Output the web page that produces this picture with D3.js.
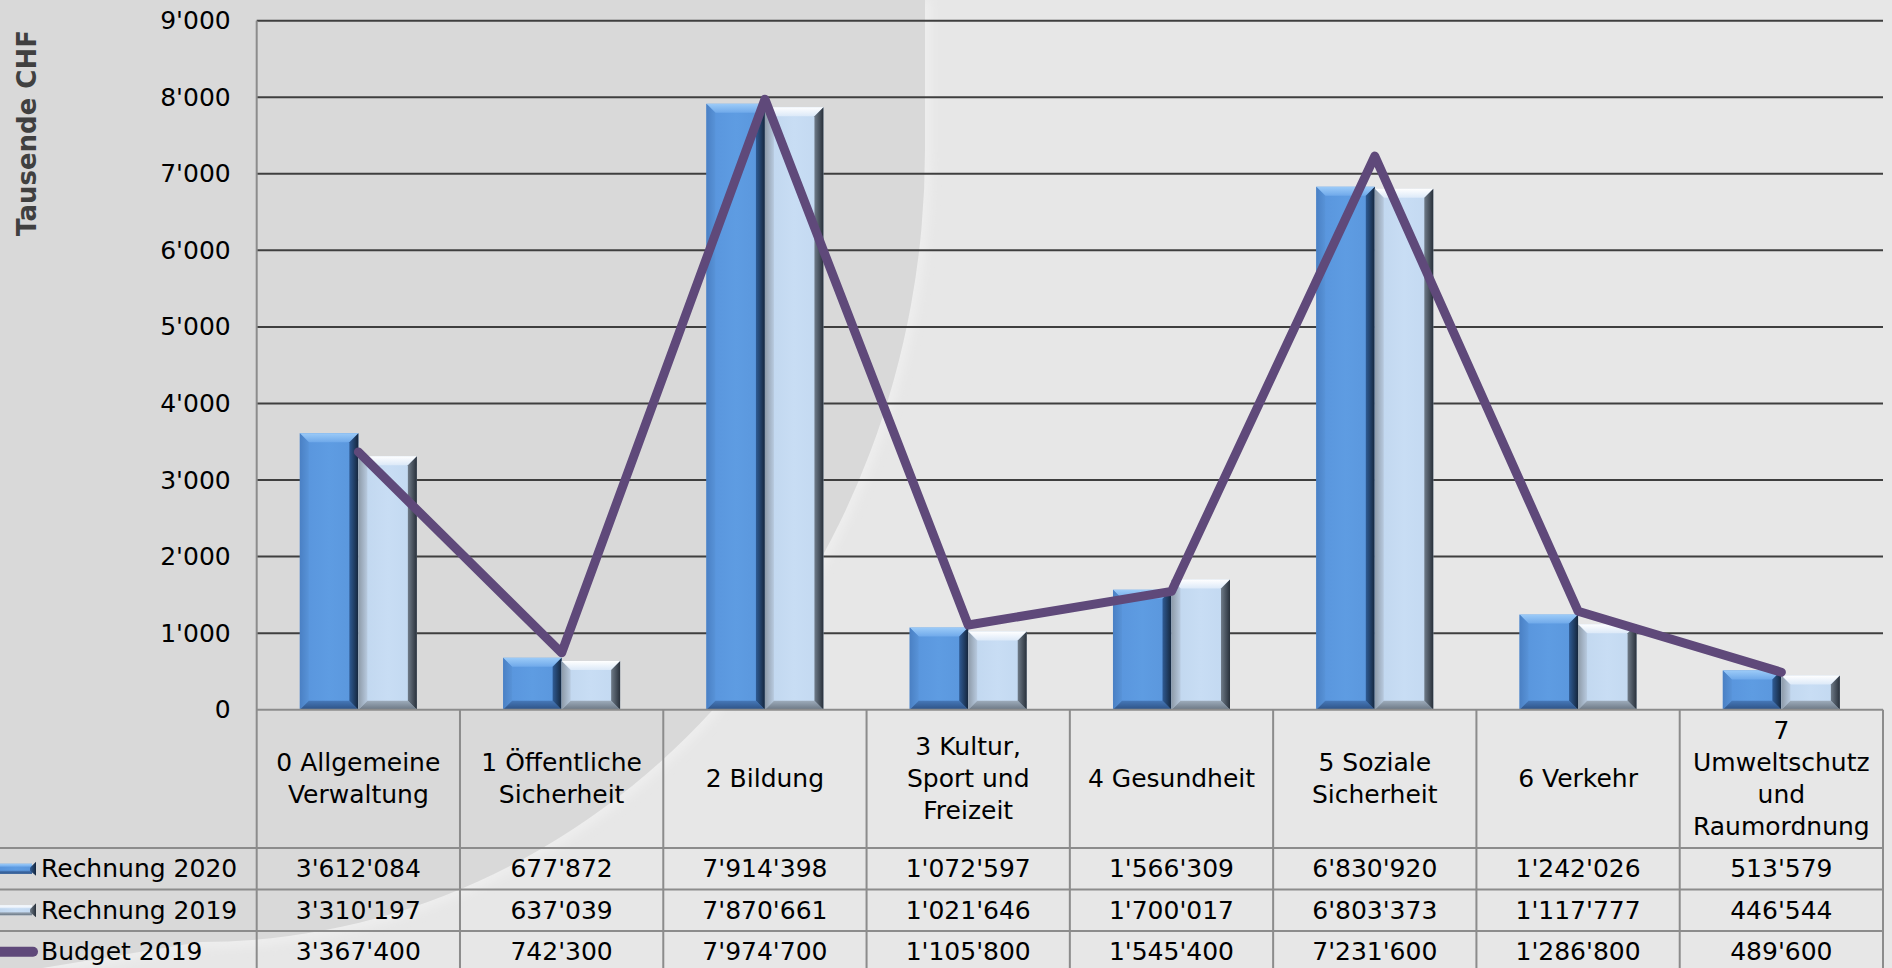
<!DOCTYPE html>
<meta charset="utf-8">
<style>
body { margin: 0; background: #e7e7e7; }
text { font-family: "DejaVu Sans", Verdana, sans-serif; }
</style>
<body>
<script src="https://cdn.jsdelivr.net/npm/d3@7"></script>
<script>

// categories, as they are wrapped in the table header
var categories = ["0 Allgemeine Verwaltung", "1 Öffentliche Sicherheit", "2 Bildung",
  "3 Kultur, Sport und Freizeit", "4 Gesundheit", "5 Soziale Sicherheit", "6 Verkehr",
  "7 Umweltschutz und Raumordnung"];
var headerLines = [["0 Allgemeine", "Verwaltung"], ["1 Öffentliche", "Sicherheit"], ["2 Bildung"],
  ["3 Kultur,", "Sport und", "Freizeit"], ["4 Gesundheit"], ["5 Soziale", "Sicherheit"],
  ["6 Verkehr"], ["7", "Umweltschutz", "und", "Raumordnung"]];

// values in CHF (axis shows thousands)
var rechnung2020 = [3612084, 677872, 7914398, 1072597, 1566309, 6830920, 1242026, 513579];
var rechnung2019 = [3310197, 637039, 7870661, 1021646, 1700017, 6803373, 1117777, 446544];
var budget2019   = [3367400, 742300, 7974700, 1105800, 1545400, 7231600, 1286800, 489600];

var seriesNames = ["Rechnung 2020", "Rechnung 2019", "Budget 2019"];
var yTicks = [0, 1000, 2000, 3000, 4000, 5000, 6000, 7000, 8000, 9000];

var W = 1892, H = 968;
var plotLeft = 256.7, plotRight = 1883, plotTop = 20.7, zero = 709.7;
var headerBottom = 848, rowH = 41.5;

var loc = d3.formatLocale({decimal: ".", thousands: "'", grouping: [3], currency: ["", ""]});
var fmt = loc.format(",");

var svg = d3.select("body").append("svg")
    .attr("width", W)
    .attr("height", H);

var defs = svg.append("defs");
function grad(id, x2, y2, stops) {
  var g = defs.append("linearGradient").attr("id", id)
      .attr("x1", 0).attr("y1", 0).attr("x2", x2).attr("y2", y2);
  stops.forEach(function(s) {
    g.append("stop").attr("offset", s[0]).attr("stop-color", s[1]);
  });
}
// blue bar faces
grad("bTop", 0, 1, [[0, "#9ccbf8"], [1, "#6fa9ea"]]);
grad("bLeft", 1, 0, [[0, "#4a80c4"], [1, "#5893d8"]]);
grad("bRight", 1, 0, [[0, "#2f5b94"], [1, "#15263c"]]);
grad("bBot", 0, 1, [[0, "#4678b8"], [1, "#2d5286"]]);
grad("bMid", 1, 0, [[0, "#5894dc"], [0.5, "#5e9ce2"], [1, "#5a96dc"]]);
// light bar faces
grad("lTop", 0, 1, [[0, "#ffffff"], [1, "#dce9f8"]]);
grad("lLeft", 1, 0, [[0, "#8d9aa8"], [1, "#b8cadf"]]);
grad("lRight", 1, 0, [[0, "#6f7b88"], [1, "#28303a"]]);
grad("lBot", 0, 1, [[0, "#9eacbb"], [1, "#6b7784"]]);
grad("lMid", 1, 0, [[0, "#c0d6ee"], [0.5, "#c8ddf4"], [1, "#c2d8f0"]]);

defs.append("filter").attr("id", "blur")
    .attr("x", "-10%").attr("y", "-10%").attr("width", "120%").attr("height", "120%")
  .append("feGaussianBlur").attr("stdDeviation", 5);

var styles = {
  "Rechnung 2020": {top: "url(#bTop)", left: "url(#bLeft)", right: "url(#bRight)", bot: "url(#bBot)", mid: "url(#bMid)"},
  "Rechnung 2019": {top: "url(#lTop)", left: "url(#lLeft)", right: "url(#lRight)", bot: "url(#lBot)", mid: "url(#lMid)"}
};

// background: darker rounded shape on the left, soft light rim outside it
var bgShape = "M0,0 L925,0 L925,150 A725,792 0 0 1 200,942 L0,975 Z";
svg.append("rect").attr("width", W).attr("height", H).attr("fill", "#e7e7e7");
svg.append("path")
    .attr("d", "M925,0 L925,150 A725,792 0 0 1 200,942 L0,975")
    .attr("fill", "none")
    .attr("stroke", "#eeeeee")
    .attr("stroke-width", 12)
    .attr("filter", "url(#blur)");
svg.append("path")
    .attr("d", bgShape)
    .attr("fill", "#d9d9d9");

// scales
var x = d3.scaleBand().domain(categories).range([plotLeft, plotRight]);
var xs = d3.scaleBand().domain(seriesNames.slice(0, 2)).range([0, x.bandwidth()]).paddingOuter(0.737);
var y = d3.scaleLinear().domain([0, 9000]).range([zero, plotTop]);

// gridlines
svg.append("g").selectAll("line")
  .data(yTicks.slice(1))
  .enter().append("line")
    .attr("x1", plotLeft).attr("x2", plotRight)
    .attr("y1", function(d) { return y(d); })
    .attr("y2", function(d) { return y(d); })
    .attr("stroke", "#3f3f3f")
    .attr("stroke-width", 2);

// y axis labels
var yAxis = svg.append("g")
    .attr("transform", "translate(" + plotLeft + ",0)")
    .call(d3.axisLeft(y).tickValues(yTicks).tickSize(0).tickPadding(26).tickFormat(fmt));
yAxis.select(".domain").remove();
yAxis.selectAll("text")
    .attr("font-size", 25)
    .attr("font-family", "DejaVu Sans")
    .attr("fill", "#000");

svg.append("text")
    .attr("transform", "translate(27,133) rotate(-90)")
    .attr("text-anchor", "middle")
    .attr("dominant-baseline", "central")
    .attr("font-size", 26)
    .attr("font-weight", "bold")
    .attr("fill", "#404040")
    .text("Tausende CHF");

// bevelled bars
function bevelBar(g, bx, by, w, h, st) {
  var b = Math.min(9, h / 2, w / 2);
  var x2 = bx + w, y2 = by + h;
  g.append("rect").attr("x", bx).attr("y", by).attr("width", w).attr("height", h).attr("fill", st.mid);
  g.append("polygon").attr("fill", st.top)
    .attr("points", [[bx, by], [x2, by], [x2 - b, by + b], [bx + b, by + b]].join(" "));
  g.append("polygon").attr("fill", st.left)
    .attr("points", [[bx, by], [bx + b, by + b], [bx + b, y2 - b], [bx, y2]].join(" "));
  g.append("polygon").attr("fill", st.bot)
    .attr("points", [[bx, y2], [bx + b, y2 - b], [x2 - b, y2 - b], [x2, y2]].join(" "));
  g.append("polygon").attr("fill", st.right)
    .attr("points", [[x2, by], [x2, y2], [x2 - b, y2 - b], [x2 - b, by + b]].join(" "));
}

var barData = [];
categories.forEach(function(c, i) {
  barData.push({cat: c, s: "Rechnung 2020", v: rechnung2020[i] / 1000});
  barData.push({cat: c, s: "Rechnung 2019", v: rechnung2019[i] / 1000});
});

var bars = svg.append("g");
barData.forEach(function(d) {
  var bx = x(d.cat) + xs(d.s);
  bevelBar(bars, bx, y(d.v), xs.bandwidth(), zero - y(d.v), styles[d.s]);
});

// budget line
var line = d3.line()
    .x(function(d, i) { return x(categories[i]) + x.bandwidth() / 2; })
    .y(function(d) { return y(d / 1000); });

svg.append("path")
    .datum(budget2019)
    .attr("d", line)
    .attr("fill", "none")
    .attr("stroke", "#5f497a")
    .attr("stroke-width", 9)
    .attr("stroke-linejoin", "round")
    .attr("stroke-linecap", "round");

// data table
var tableStroke = "#8c8c8c";
var tbl = svg.append("g");
var rowTops = [headerBottom, headerBottom + rowH, headerBottom + 2 * rowH, headerBottom + 3 * rowH];

tbl.append("line").attr("x1", plotLeft).attr("x2", plotRight).attr("y1", zero).attr("y2", zero)
    .attr("stroke", tableStroke).attr("stroke-width", 2);
rowTops.forEach(function(r) {
  tbl.append("line").attr("x1", 0).attr("x2", plotRight).attr("y1", r).attr("y2", r)
      .attr("stroke", tableStroke).attr("stroke-width", 2);
});
tbl.append("line").attr("x1", plotLeft).attr("x2", plotLeft).attr("y1", plotTop).attr("y2", H)
    .attr("stroke", tableStroke).attr("stroke-width", 2);
categories.forEach(function(c) {
  tbl.append("line").attr("x1", x(c) + x.bandwidth()).attr("x2", x(c) + x.bandwidth())
      .attr("y1", zero).attr("y2", H)
      .attr("stroke", tableStroke).attr("stroke-width", 2);
});

// header labels
categories.forEach(function(c, i) {
  var lines = headerLines[i];
  var cy = (zero + headerBottom) / 2;
  var t = tbl.append("text")
      .attr("text-anchor", "middle")
      .attr("font-size", 25)
      .attr("fill", "#000");
  lines.forEach(function(l, j) {
    t.append("tspan")
        .attr("x", x(c) + x.bandwidth() / 2)
        .attr("y", cy + (j - (lines.length - 1) / 2) * 32)
        .attr("dominant-baseline", "central")
        .text(l);
  });
});

// value rows
var rows = [rechnung2020, rechnung2019, budget2019];
rows.forEach(function(vals, r) {
  var cy = rowTops[r] + rowH / 2;
  vals.forEach(function(v, i) {
    tbl.append("text")
        .attr("x", x(categories[i]) + x.bandwidth() / 2)
        .attr("y", cy)
        .attr("text-anchor", "middle")
        .attr("dominant-baseline", "central")
        .attr("font-size", 25)
        .attr("fill", "#000")
        .text(fmt(v));
  });
  tbl.append("text")
      .attr("x", 41)
      .attr("y", cy)
      .attr("dominant-baseline", "central")
      .attr("font-size", 25)
      .attr("fill", "#000")
      .text(seriesNames[r]);
});

// legend keys in the table
function legendKey(r, st) {
  var cy = rowTops[r] + rowH / 2;
  tbl.append("rect").attr("x", 0).attr("y", cy - 5).attr("width", 32).attr("height", 10).attr("fill", st.mid);
  tbl.append("rect").attr("x", 0).attr("y", cy - 5).attr("width", 32).attr("height", 3).attr("fill", st.top);
  tbl.append("rect").attr("x", 0).attr("y", cy + 2).attr("width", 32).attr("height", 3).attr("fill", st.bot);
  tbl.append("polygon").attr("fill", st.right)
      .attr("points", [[30, cy - 1], [36, cy - 7], [36, cy + 7], [30, cy + 2]].join(" "));
}
legendKey(0, styles["Rechnung 2020"]);
legendKey(1, styles["Rechnung 2019"]);
var ly = rowTops[2] + rowH / 2;
tbl.append("line").attr("x1", 0).attr("x2", 33).attr("y1", ly).attr("y2", ly)
    .attr("stroke", "#5f497a").attr("stroke-width", 10).attr("stroke-linecap", "round");

</script>
</body>
